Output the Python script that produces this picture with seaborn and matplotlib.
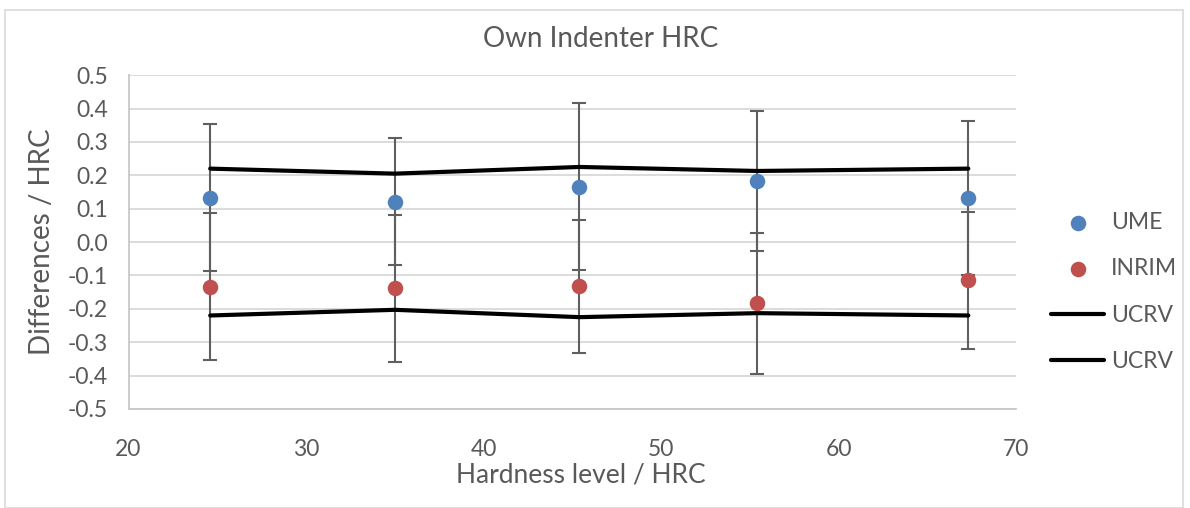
import numpy as np
import pandas as pd
import matplotlib
matplotlib.use('Agg')
import matplotlib.pyplot as plt
import seaborn as sns

# values
hardness = [24.6, 35.0, 45.4, 55.4, 67.3]
ume = [0.133, 0.121, 0.166, 0.184, 0.132]
ume_err = [0.22, 0.19, 0.25, 0.21, 0.23]
inrim = [-0.134, -0.139, -0.133, -0.184, -0.115]
inrim_err = [0.22, 0.22, 0.20, 0.21, 0.205]
ucrv_upper = [0.22, 0.205, 0.225, 0.213, 0.22]
ucrv_lower = [-0.22, -0.203, -0.225, -0.213, -0.22]
y_ticks = [-0.5, -0.4, -0.3, -0.2, -0.1, 0.0, 0.1, 0.2, 0.3, 0.4, 0.5]
x_ticks = [20, 30, 40, 50, 60, 70]

df = pd.DataFrame({'hardness': hardness, 'ume': ume, 'inrim': inrim,
                   'ucrv_upper': ucrv_upper, 'ucrv_lower': ucrv_lower})

sns.set_style('white')
plt.rcParams['font.family'] = ['Lato', 'DejaVu Sans']
text_col = '#595959'
grid_col = '#D9D9D9'

fig = plt.figure(figsize=(11.9, 5.08), dpi=100)
ax = fig.add_axes([0.108, 0.195, 0.746, 0.657])

# error bars first so the markers sit on top
ax.errorbar(df['hardness'], df['ume'], yerr=ume_err, fmt='none',
            ecolor='#5f5f5f', elinewidth=1.5, capsize=5, capthick=1.5, zorder=2)
ax.errorbar(df['hardness'], df['inrim'], yerr=inrim_err, fmt='none',
            ecolor='#5f5f5f', elinewidth=1.5, capsize=5, capthick=1.5, zorder=2)

sns.scatterplot(data=df, x='hardness', y='ume', color='#4F81BD', s=125,
                linewidth=0, label='UME', legend=False, ax=ax, zorder=4)
sns.scatterplot(data=df, x='hardness', y='inrim', color='#C0504D', s=125,
                linewidth=0, label='INRIM', legend=False, ax=ax, zorder=4)
sns.lineplot(data=df, x='hardness', y='ucrv_upper', color='black', lw=3,
             label='UCRV', legend=False, ax=ax, zorder=3)
sns.lineplot(data=df, x='hardness', y='ucrv_lower', color='black', lw=3,
             label='UCRV', legend=False, ax=ax, zorder=3)

ax.set_xlim(20, 70)
ax.set_ylim(-0.5, 0.5)
ax.set_xticks(x_ticks)
ax.set_yticks(y_ticks)
ax.set_yticklabels([f'{v:.1f}' for v in y_ticks])
ax.tick_params(axis='both', length=0, labelsize=16.5, colors=text_col)
ax.tick_params(axis='x', pad=22)
ax.tick_params(axis='y', pad=15)
ax.yaxis.grid(True, color=grid_col, lw=1.3)
ax.set_axisbelow(True)
for side in ['top', 'right']:
    ax.spines[side].set_visible(False)
for side in ['left', 'bottom']:
    ax.spines[side].set_color('#C8C8C8')
    ax.spines[side].set_linewidth(1.3)

ax.set_xlabel('')
ax.set_ylabel('')
fig.text(0.488, 0.065, 'Hardness level / HRC', ha='center', va='center',
         fontsize=19, color=text_col)
fig.text(0.035, 0.525, 'Differences / HRC', ha='center', va='center',
         rotation=90, fontsize=20, color=text_col)
fig.text(0.505, 0.923, 'Own Indenter HRC', ha='center', va='center',
         fontsize=20, color=text_col)

handles, labels = ax.get_legend_handles_labels()
fig.legend(handles, labels, loc='center left', bbox_to_anchor=(0.866, 0.425),
           frameon=False, fontsize=16.5, labelcolor=text_col, handlelength=2.3,
           labelspacing=1.1, handletextpad=0.3)

# light chart border like the Excel chart area
fig.patches.append(plt.Rectangle((0.004, 0.0), 0.99, 0.98, transform=fig.transFigure,
                                 fill=False, edgecolor='#D9D9D9', lw=1.2))

fig.savefig('out.png', dpi=100)
